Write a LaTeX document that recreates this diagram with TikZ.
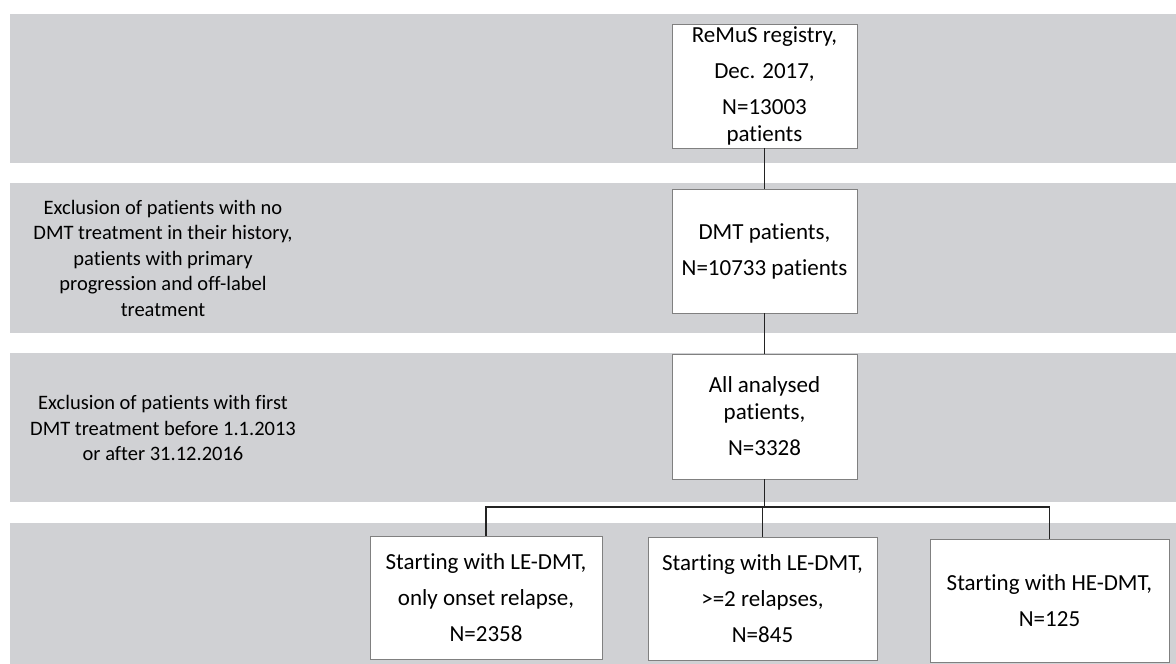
\documentclass[tikz,border=0pt]{standalone}
\usepackage{fontspec}
\setmainfont{Carlito}[RawFeature={-liga;-calt;-dlig;-clig}]
\definecolor{band}{RGB}{208,209,212}
\definecolor{boxline}{RGB}{128,128,128}
\definecolor{conn}{RGB}{35,35,35}
\begin{document}
\begin{tikzpicture}[x=1pt,y=-1pt,
  bandbox/.style={fill=band,draw=none},
  flowbox/.style={draw=boxline,line width=0.8pt,fill=white,align=center,inner sep=0pt,font=\fontsize{23}{36}\selectfont},
  sidetext/.style={align=center,inner sep=0pt,font=\fontsize{20.5}{25.5}\selectfont},
  link/.style={draw=conn,line width=1.2pt}]
\useasboundingbox (0,0) rectangle (1176,664);
\fill[white] (0,0) rectangle (1176,664);
% bands
\path[bandbox] (10,14) rectangle (1176,163);
\path[bandbox] (10,183) rectangle (1176,333);
\path[bandbox] (10,353) rectangle (1176,502);
\path[bandbox] (10,523) rectangle (1176,664);
% side texts
\node[sidetext] (s1) at (163,258) {Exclusion of patients with no\\DMT treatment in their history,\\patients with primary\\progression and off-label\\treatment};
\node[sidetext] (s2) at (163,428) {Exclusion of patients with first\\DMT treatment before 1.1.2013\\or after 31.12.2016};
% boxes
\node[flowbox,minimum width=185pt,minimum height=124pt] (b1) at (764.5,86) {ReMuS registry,\\Dec. 2017,\\N=13003\\[-9pt]patients};
\node[flowbox,minimum width=185pt,minimum height=124pt] (b2) at (764.5,251) {DMT patients,\\N=10733 patients};
\node[flowbox,minimum width=185pt,minimum height=125pt] (b3) at (764.5,416.5) {All analysed\\[-9pt]patients,\\N=3328};
\node[flowbox,minimum width=232pt,minimum height=123pt] (bl) at (486,597.5) {Starting with LE-DMT,\\only onset relapse,\\N=2358};
\node[flowbox,minimum width=229pt,minimum height=123pt] (bm) at (762.5,598.5) {Starting with LE-DMT,\\>=2 relapses,\\N=845};
\node[flowbox,minimum width=239pt,minimum height=123pt] (br) at (1049.5,600.5) {Starting with HE-DMT,\\N=125};
% connectors
\draw[link] (b1.south) -- (b2.north);
\draw[link] (b2.south) -- (b3.north);
\coordinate (j) at (764.5,507);
\draw[link] (b3.south) -- (j);
\draw[link] (j) -| (bl.north);
\draw[link] (j) -| (br.north);
\draw[link] (j) -| (bm.north);
\end{tikzpicture}
\end{document}
